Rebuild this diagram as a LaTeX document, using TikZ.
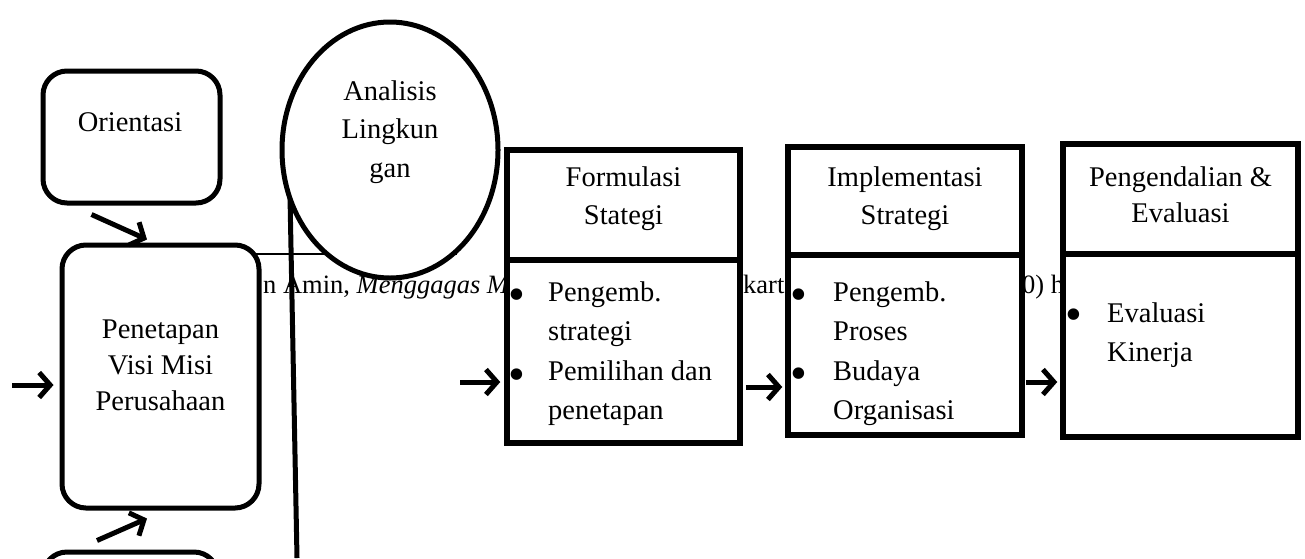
\documentclass[tikz,border=0pt]{standalone}
\usepackage{fontspec}
\setmainfont{Liberation Serif}
\usetikzlibrary{arrows.meta,shapes.geometric,calc}
\begin{document}
\begin{tikzpicture}[x=1pt,y=-1pt,
  box/.style={draw, line width=5.5pt, fill=white, inner sep=0, minimum width=#1},
  rbox/.style={draw, line width=5pt, fill=white, inner sep=0, rounded corners=24pt},
  lbl/.style={font=\fontsize{28.5}{37}\selectfont, align=center, inner sep=0},
  itm/.style={font=\fontsize{28.5}{37}\selectfont, inner sep=0, anchor=base west},
  bul/.style={font=\fontsize{48}{48}\selectfont, inner sep=0, anchor=center},
  fn/.style={font=\fontsize{26.5}{30}\selectfont, inner sep=0, anchor=base west},
  arr/.style={line width=5pt, -{Straight Barb[length=11pt,width=25pt]}},
  divider/.style={line width=5.5pt}]
\useasboundingbox (0,0) rectangle (1305,558);
\clip (0,0) rectangle (1305,558);

% footnote fragments (behind everything)
\node[fn] (fn1) at (263,293) {n Amin, \textit{Menggagas M}};
\node[fn] (fn2) at (743,293) {karta};
\node[fn] (fn3) at (1022,293) {0) h};
\coordinate (hl1) at (250,254);
\coordinate (hl2) at (457,254);
\draw[line width=2pt] (hl1) -- (hl2);

% vertical line
\coordinate (vl1) at (289.3,160);
\coordinate (vl2) at (297,558);
\draw[line width=5pt] (vl1) -- (vl2);

% ellipse
\node[ellipse, draw, line width=5pt, fill=white, inner sep=0,
      minimum width=216pt, minimum height=256pt] (ana) at (390,150) {};
\node[lbl, font=\fontsize{28.5}{38.5}\selectfont] (anat) at (390,132) {Analisis\\Lingkun\\gan};

% rounded boxes
\node[rbox, minimum width=177pt, minimum height=132pt] (ori) at (131.5,137) {};
\node[lbl] (orit) at (130,122) {Orientasi};
\node[rbox, minimum width=197pt, minimum height=263pt] (pen) at (160.5,376.5) {};
\node[lbl, font=\fontsize{28.5}{36}\selectfont] (pent) at (160.5,365) {Penetapan\\Visi Misi\\Perusahaan};
\node[rbox, minimum width=175pt, minimum height=128pt] (bot) at (130.5,616) {};

% strategy boxes
\node[box=233pt, minimum height=293pt] (form) at (623.5,296.5) {};
\node[box=234pt, minimum height=288pt] (imp) at (905,291) {};
\node[box=235pt, minimum height=293pt] (peng) at (1180.5,290.5) {};
\coordinate (d1) at (0,260);
\coordinate (d2) at (0,255);
\coordinate (d3) at (0,254);
\draw[divider] (form.west |- d1) -- (form.east |- d1);
\draw[divider] (imp.west |- d2) -- (imp.east |- d2);
\draw[divider] (peng.west |- d3) -- (peng.east |- d3);

\node[lbl, font=\fontsize{28.5}{38}\selectfont] (formt) at (623.5,199) {Formulasi\\Stategi};
\node[lbl, font=\fontsize{28.5}{38}\selectfont] (impt) at (905,199) {Implementasi\\Strategi};
\node[lbl, font=\fontsize{28.5}{36}\selectfont] (pengt) at (1180.5,195) {Pengendalian \&\\Evaluasi};

% Formulasi items
\node[bul] (fb1) at (517,300) {•};
\node[itm] (fi1) at (548,301) {Pengemb.};
\node[itm] (fi2) at (548,340) {strategi};
\node[bul] (fb2) at (517,380) {•};
\node[itm] (fi3) at (548,380) {Pemilihan dan};
\node[itm] (fi4) at (548,419) {penetapan};
% Implementasi items
\node[bul] (ib1) at (799,300) {•};
\node[itm] (ii1) at (833,301) {Pengemb.};
\node[itm] (ii2) at (833,340) {Proses};
\node[bul] (ib2) at (799,379) {•};
\node[itm] (ii3) at (833,380) {Budaya};
\node[itm] (ii4) at (833,419) {Organisasi};
% Pengendalian items
\node[bul] (pb1) at (1074,320) {•};
\node[itm] (pi1) at (1107,322) {Evaluasi};
\node[itm] (pi2) at (1107,361) {Kinerja};

% arrows
\coordinate (in1) at (12,385);
\draw[arr, shorten >=6pt] (in1) -- (pen.west |- in1);
\draw[arr] ([shift={(-40,9)}]ori.south) -- ([shift={(-13.5,-3)}]pen.north);
\draw[arr] ([shift={(-33.5,-9)}]bot.north) -- ([shift={(-13.5,8)}]pen.south);
\coordinate (in2) at (460,382);
\draw[arr, shorten >=4pt] (in2) -- (form.west |- in2);
\coordinate (cA) at (0,387);
\draw[arr, shorten <=3pt, shorten >=3pt] (form.east |- cA) -- (imp.west |- cA);
\coordinate (cB) at (0,382);
\draw[arr, shorten <=1pt, shorten >=3pt] (imp.east |- cB) -- (peng.west |- cB);
\end{tikzpicture}
\end{document}
